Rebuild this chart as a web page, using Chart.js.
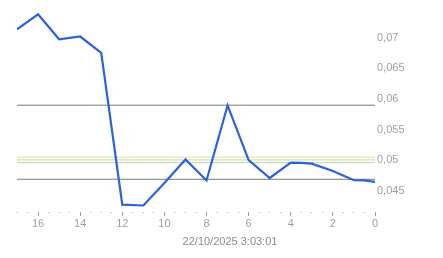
<!DOCTYPE html>
<html>
<head>
<meta charset="utf-8">
<script src="https://cdn.jsdelivr.net/npm/chart.js@4"></script>
<style>
  html, body { margin: 0; padding: 0; background: #fff; }
  canvas { display: block; }
</style>
</head>
<body>
<canvas id="priceChart" width="443" height="258"></canvas>
<script>
// values (x = steps back, 17 .. 0)
const stepsBack = [17, 16, 15, 14, 13, 12, 11, 10, 9, 8, 7, 6, 5, 4, 3.5, 3, 2, 1, 0.5, 0];
const priceValues = [0.07139, 0.07384, 0.06975, 0.07021, 0.06755, 0.04276, 0.04263, 0.04631, 0.05015, 0.04672,
                     0.05897, 0.05002, 0.04712, 0.04962, 0.0496, 0.04946, 0.04827, 0.04675, 0.04673, 0.04647];

// horizontal reference levels
const grayLevels = [0.0590, 0.04691];
const yellowLevels = [0.05051];
const greenLevels = [0.05007, 0.04962];

const xTickLabels = [16, 14, 12, 10, 8, 6, 4, 2, 0];
const yTickValues = [0.045, 0.05, 0.055, 0.06, 0.065, 0.07];
const titleText = '22/10/2025 3:03:01';

const xMin = 0, xMax = 17;

function levelLine(level, color) {
    return {
        data: [{ x: xMax, y: level }, { x: xMin, y: level }],
        borderColor: color,
        borderWidth: 1,
        pointRadius: 0,
        order: 2
    };
}

const datasets = [{
    data: stepsBack.map((x, i) => ({ x: x, y: priceValues[i] })),
    borderColor: '#2a62d8',
    borderWidth: 2.2,
    pointRadius: 0,
    tension: 0,
    order: 1
}];
grayLevels.forEach(v => datasets.push(levelLine(v, '#7a7a7a')));
yellowLevels.forEach(v => datasets.push(levelLine(v, '#e8dc8e')));
greenLevels.forEach(v => datasets.push(levelLine(v, '#bcdaa4')));

const isMajor = v => xTickLabels.includes(v);

new Chart(document.getElementById('priceChart').getContext('2d'), {
    type: 'line',
    data: { datasets: datasets },
    options: {
        responsive: false,
        animation: false,
        devicePixelRatio: 1,
        layout: { padding: { left: 17, top: 9, right: 0, bottom: 9 } },
        plugins: {
            legend: { display: false },
            tooltip: { enabled: false },
            title: {
                display: true,
                position: 'bottom',
                text: titleText,
                color: '#8a8a8a',
                font: { family: 'Arial, "Liberation Sans", sans-serif', size: 11, weight: 'normal' },
                padding: 0
            }
        },
        scales: {
            x: {
                type: 'linear',
                reverse: true,
                min: xMin,
                max: xMax,
                border: { display: false },
                grid: {
                    drawOnChartArea: false,
                    drawTicks: true,
                    tickLength: 4,
                    tickColor: ctx => isMajor(ctx.tick.value) ? '#9a9a9a' : '#b0b0b0',
                    tickBorderDash: ctx => isMajor(ctx.tick.value) ? [] : [1, 10]
                },
                ticks: {
                    stepSize: 0.5,
                    autoSkip: false,
                    maxRotation: 0,
                    padding: 2,
                    color: '#9e9e9e',
                    font: { family: 'Arial, "Liberation Sans", sans-serif', size: 11 },
                    callback: v => isMajor(v) ? String(v) : ''
                },
                afterFit: scale => { scale.height = 24; }
            },
            y: {
                position: 'right',
                min: 0.0416,
                max: 0.0747,
                border: { display: false },
                grid: { display: false, drawTicks: false },
                afterBuildTicks: scale => {
                    scale.ticks = yTickValues.map(v => ({ value: v }));
                },
                ticks: {
                    padding: 2,
                    color: '#9e9e9e',
                    font: { family: 'Arial, "Liberation Sans", sans-serif', size: 11 },
                    callback: v => String(parseFloat(v.toFixed(4))).replace('.', ',')
                },
                afterFit: scale => { scale.width = 68; }
            }
        }
    }
});
</script>
</body>
</html>
